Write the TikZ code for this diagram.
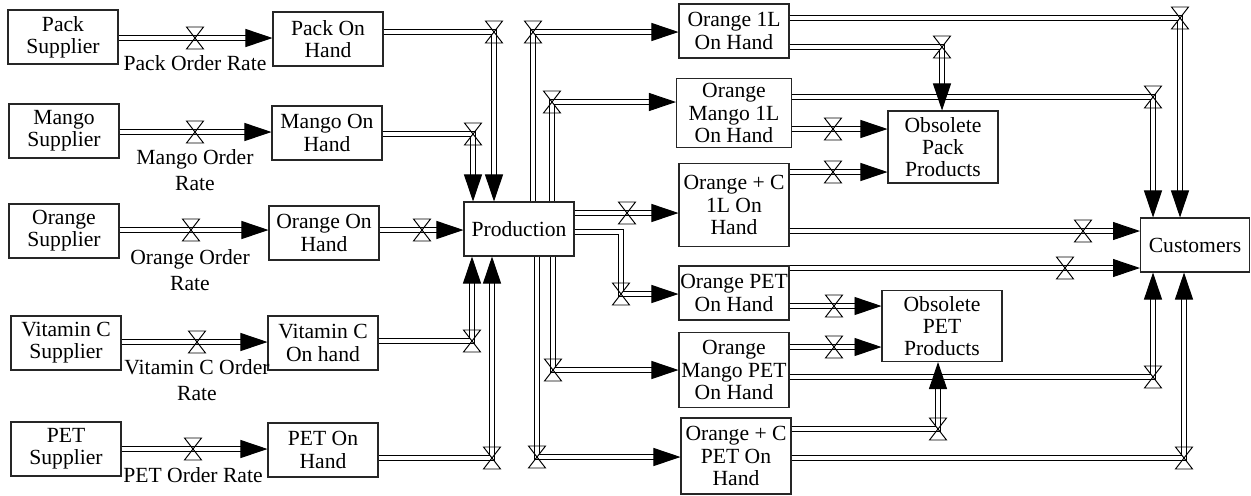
\documentclass[tikz,border=0pt]{standalone}
\usepackage{fontspec}
\setmainfont{Liberation Serif}
\usetikzlibrary{arrows.meta,calc}

\begin{document}
\begin{tikzpicture}[x=0.02cm,y=-0.02cm,
    stock/.style={draw=black!85,line width=0.6pt,align=center,inner sep=0pt,
      font=\fontsize{12.3}{12.6}\selectfont,minimum width=2.2cm,minimum height=1.08cm},
    pipe/.style={double,double distance=2.3pt,line width=0.55pt},
    inflow/.style={pipe,-{Triangle[length=5.4mm,width=3.6mm]}},
    rate/.style={align=center,inner sep=0pt,font=\fontsize{12.3}{14.5}\selectfont},
    valve/.pic={\draw[line width=0.55pt] (-8.5,-11) -- (8.5,-11) -- (0,0) -- cycle
      (-8.5,11) -- (8.5,11) -- (0,0) -- cycle;}]
    \useasboundingbox (0,0) rectangle (1251,495);
    \node[stock] (packsup) at (63,37) {Pack\\Supplier};
    \node[stock] (mangosup) at (64,131) {Mango\\Supplier};
    \node[stock] (orangesup) at (64,231) {Orange\\Supplier};
    \node[stock] (vitcsup) at (66,343) {Vitamin C\\Supplier};
    \node[stock] (petsup) at (66,449) {PET\\Supplier};
    \node[stock] (packoh) at (328,39) {Pack On\\Hand};
    \node[stock] (mangooh) at (327,133) {Mango On\\Hand};
    \node[stock] (orangeoh) at (324,233) {Orange On\\Hand};
    \node[stock] (vitcoh) at (323,343) {Vitamin C\\On hand};
    \node[stock] (petoh) at (323,450) {PET On\\Hand};
    \node[stock] (prod) at (519,229) {Production};
    \node[stock] (o1l) at (734,31) {Orange 1L\\On Hand};
    \node[stock,minimum width=2.3cm,minimum height=1.38cm] (om1l) at (734,113) {Orange\\Mango 1L\\On Hand};
    \node[stock,minimum height=1.66cm] (oc1l) at (734,205) {Orange + C\\1L On\\Hand};
    \node[stock] (opet) at (734,293) {Orange PET\\On Hand};
    \node[stock,minimum height=1.5cm] (ompet) at (734,370) {Orange\\Mango PET\\On Hand};
    \node[stock,minimum height=1.52cm] (ocpet) at (736,456) {Orange + C\\PET On\\Hand};
    \node[stock,minimum height=1.44cm] (obspack) at (943,147) {Obsolete\\Pack\\Products};
    \node[stock,minimum width=2.4cm,minimum height=1.42cm] (obspet) at (942,326) {Obsolete\\PET\\Products};
    \node[stock,minimum width=2.18cm] (cust) at (1195,245) {Customers};

    \node[rate] (rpack) at (195,63) {Pack Order Rate};
    \node[rate] (rmango) at (195,170) {Mango Order\\Rate};
    \node[rate] (rorange) at (190,270) {Orange Order\\Rate};
    \node[rate] (rvitc) at (197,380) {Vitamin C Order\\Rate};
    \node[rate] (rpet) at (193,475) {PET Order Rate};

    \coordinate (vpack) at (195,38);
    \coordinate (vmango) at (195,132);
    \coordinate (vorange) at (191,230);
    \coordinate (vvitc) at (197,342);
    \coordinate (vpet) at (193,449);
    \coordinate (upack) at (494,32);
    \coordinate (umango) at (473,134);
    \coordinate (uorange) at (422,230);
    \coordinate (uvitc) at (472,341);
    \coordinate (upet) at (492,458);
    \coordinate (po1l) at (533,32);
    \coordinate (pom1l) at (552,102);
    \coordinate (poc1l) at (627,213);
    \coordinate (kopet) at (621,232);
    \coordinate (popet) at (621,294);
    \coordinate (pompet) at (553,370);
    \coordinate (pocpet) at (537,457);
    \coordinate (so1l) at (1180,18);
    \coordinate (som1l) at (1153,97);
    \coordinate (soc1l) at (1083,231);
    \coordinate (sopet) at (1065,268);
    \coordinate (sompet) at (1153,377);
    \coordinate (socpet) at (1184,458);
    \coordinate (xo1l) at (942,47);
    \coordinate (xom1l) at (833,129);
    \coordinate (xoc1l) at (833,172);
    \coordinate (xopet) at (834,306);
    \coordinate (xompet) at (834,347);
    \coordinate (xocpet) at (938,429);

    \draw[inflow] (packsup.east |- vpack) -- (packoh.west |- vpack);
    \draw[inflow] (mangosup.east |- vmango) -- (mangooh.west |- vmango);
    \draw[inflow] (orangesup.east |- vorange) -- (orangeoh.west |- vorange);
    \draw[inflow] (vitcsup.east |- vvitc) -- (vitcoh.west |- vvitc);
    \draw[inflow] (petsup.east |- vpet) -- (petoh.west |- vpet);

    \draw[inflow] (packoh.east |- upack) -- (upack) -- (upack |- prod.north);
    \draw[inflow] (mangooh.east |- umango) -- (umango) -- (umango |- prod.north);
    \draw[inflow] (orangeoh.east |- uorange) -- (prod.west |- uorange);
    \draw[inflow] (vitcoh.east |- uvitc) -- (uvitc) -- (uvitc |- prod.south);
    \draw[inflow] (petoh.east |- upet) -- (upet) -- (upet |- prod.south);

    \draw[inflow] (po1l |- prod.north) -- (po1l) -- (o1l.west |- po1l);
    \draw[inflow] (pom1l |- prod.north) -- (pom1l) -- (om1l.west |- pom1l);
    \draw[inflow] (prod.east |- poc1l) -- (oc1l.west |- poc1l);
    \draw[inflow] (prod.east |- kopet) -- (kopet) -- (popet) -- (opet.west |- popet);
    \draw[inflow] (pompet |- prod.south) -- (pompet) -- (ompet.west |- pompet);
    \draw[inflow] (pocpet |- prod.south) -- (pocpet) -- (ocpet.west |- pocpet);

    \draw[inflow] (o1l.east |- so1l) -- (so1l) -- (so1l |- cust.north);
    \draw[inflow] (om1l.east |- som1l) -- (som1l) -- (som1l |- cust.north);
    \draw[inflow] (oc1l.east |- soc1l) -- (cust.west |- soc1l);
    \draw[inflow] (opet.east |- sopet) -- (cust.west |- sopet);
    \draw[inflow] (ompet.east |- sompet) -- (sompet) -- (sompet |- cust.south);
    \draw[inflow] (ocpet.east |- socpet) -- (socpet) -- (socpet |- cust.south);

    \draw[inflow] (o1l.east |- xo1l) -- (xo1l) -- (xo1l |- obspack.north);
    \draw[inflow] (om1l.east |- xom1l) -- (obspack.west |- xom1l);
    \draw[inflow] (oc1l.east |- xoc1l) -- (obspack.west |- xoc1l);
    \draw[inflow] (opet.east |- xopet) -- (obspet.west |- xopet);
    \draw[inflow] (ompet.east |- xompet) -- (obspet.west |- xompet);
    \draw[inflow] (ocpet.east |- xocpet) -- (xocpet) -- (xocpet |- obspet.south);

    \foreach \v in {vpack,vmango,vorange,vvitc,vpet,upack,umango,uorange,uvitc,upet,
      po1l,pom1l,poc1l,popet,pompet,pocpet,so1l,som1l,soc1l,sopet,sompet,socpet,
      xo1l,xom1l,xoc1l,xopet,xompet,xocpet}
      \pic at (\v) {valve};
\end{tikzpicture}
\end{document}
